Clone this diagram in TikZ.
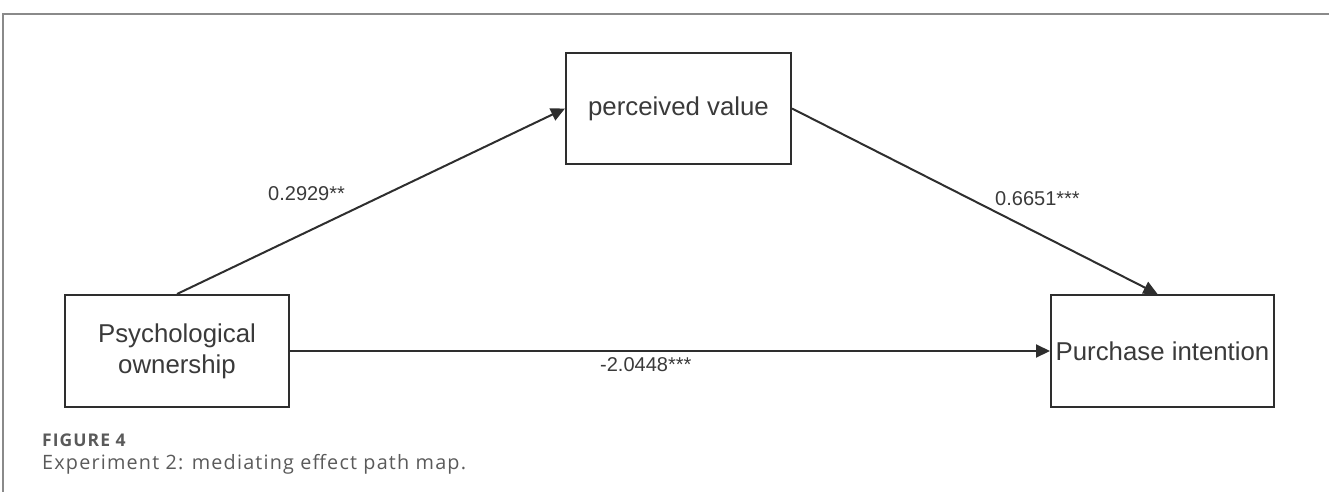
\documentclass[tikz,border=0pt]{standalone}
\usepackage{fontspec}
\setmainfont{Liberation Sans}
\newfontfamily\capfont[LetterSpace=6]{Open Sans}
\usetikzlibrary{arrows.meta}
\definecolor{ink}{HTML}{3A3A3A}
\definecolor{boxline}{HTML}{2E2E2E}
\definecolor{framegray}{HTML}{8A8A8A}
\definecolor{captiongray}{HTML}{5A5A5A}
\tikzset{
  varbox/.style={draw=boxline, line width=2pt, fill=white, rectangle,
    inner sep=0pt, text=ink, align=center,
    font=\fontsize{25.8}{31}\selectfont},
  path arrow/.style={draw=boxline, line width=2pt,
    -{Triangle[length=14pt,width=13pt]}},
  coef/.style={text=ink, inner sep=0pt, anchor=west,
    font=\fontsize{20}{24}\selectfont},
  framerule/.style={draw=framegray, line width=1.5pt},
}
\begin{document}
\begin{tikzpicture}[x=1pt,y=-1pt]
  \useasboundingbox (0,0) rectangle (1329,492);
  % outer frame (top and left rules)
  \draw[framerule] (1329,14) -- (3,14) -- (3,492);

  % variables
  \node[varbox, minimum width=225pt, minimum height=111pt] (pv) at (678.5,108.5) {perceived value};
  \node[varbox, minimum width=224pt, minimum height=112pt] (po) at (177,351) {Psychological\\ownership};
  \node[varbox, minimum width=223pt, minimum height=112pt] (pi) at (1162.5,351) {Purchase intention};

  % paths
  \draw[path arrow] (po.north) -- (pv.west);
  \draw[path arrow] (pv.east) -- ([xshift=-5pt]pi.north);
  \draw[path arrow] (po.east) -- (pi.west);

  % coefficients
  \node[coef] (a) at (268,194) {0.2929**};
  \node[coef] (b) at (995,199) {0.6651***};
  \node[coef] (c) at (600,365) {-2.0448***};

  % caption
  \node[anchor=base west, inner sep=0pt, text=captiongray,
        font=\capfont\fontsize{17.5}{20}\selectfont\bfseries] (fig) at (42,446) {FIGURE 4};
  \node[anchor=base west, inner sep=0pt, text=captiongray,
        font=\capfont\fontsize{19.8}{23}\selectfont] (cap) at (42,469) {Experiment 2: mediating effect path map.};
\end{tikzpicture}
\end{document}
